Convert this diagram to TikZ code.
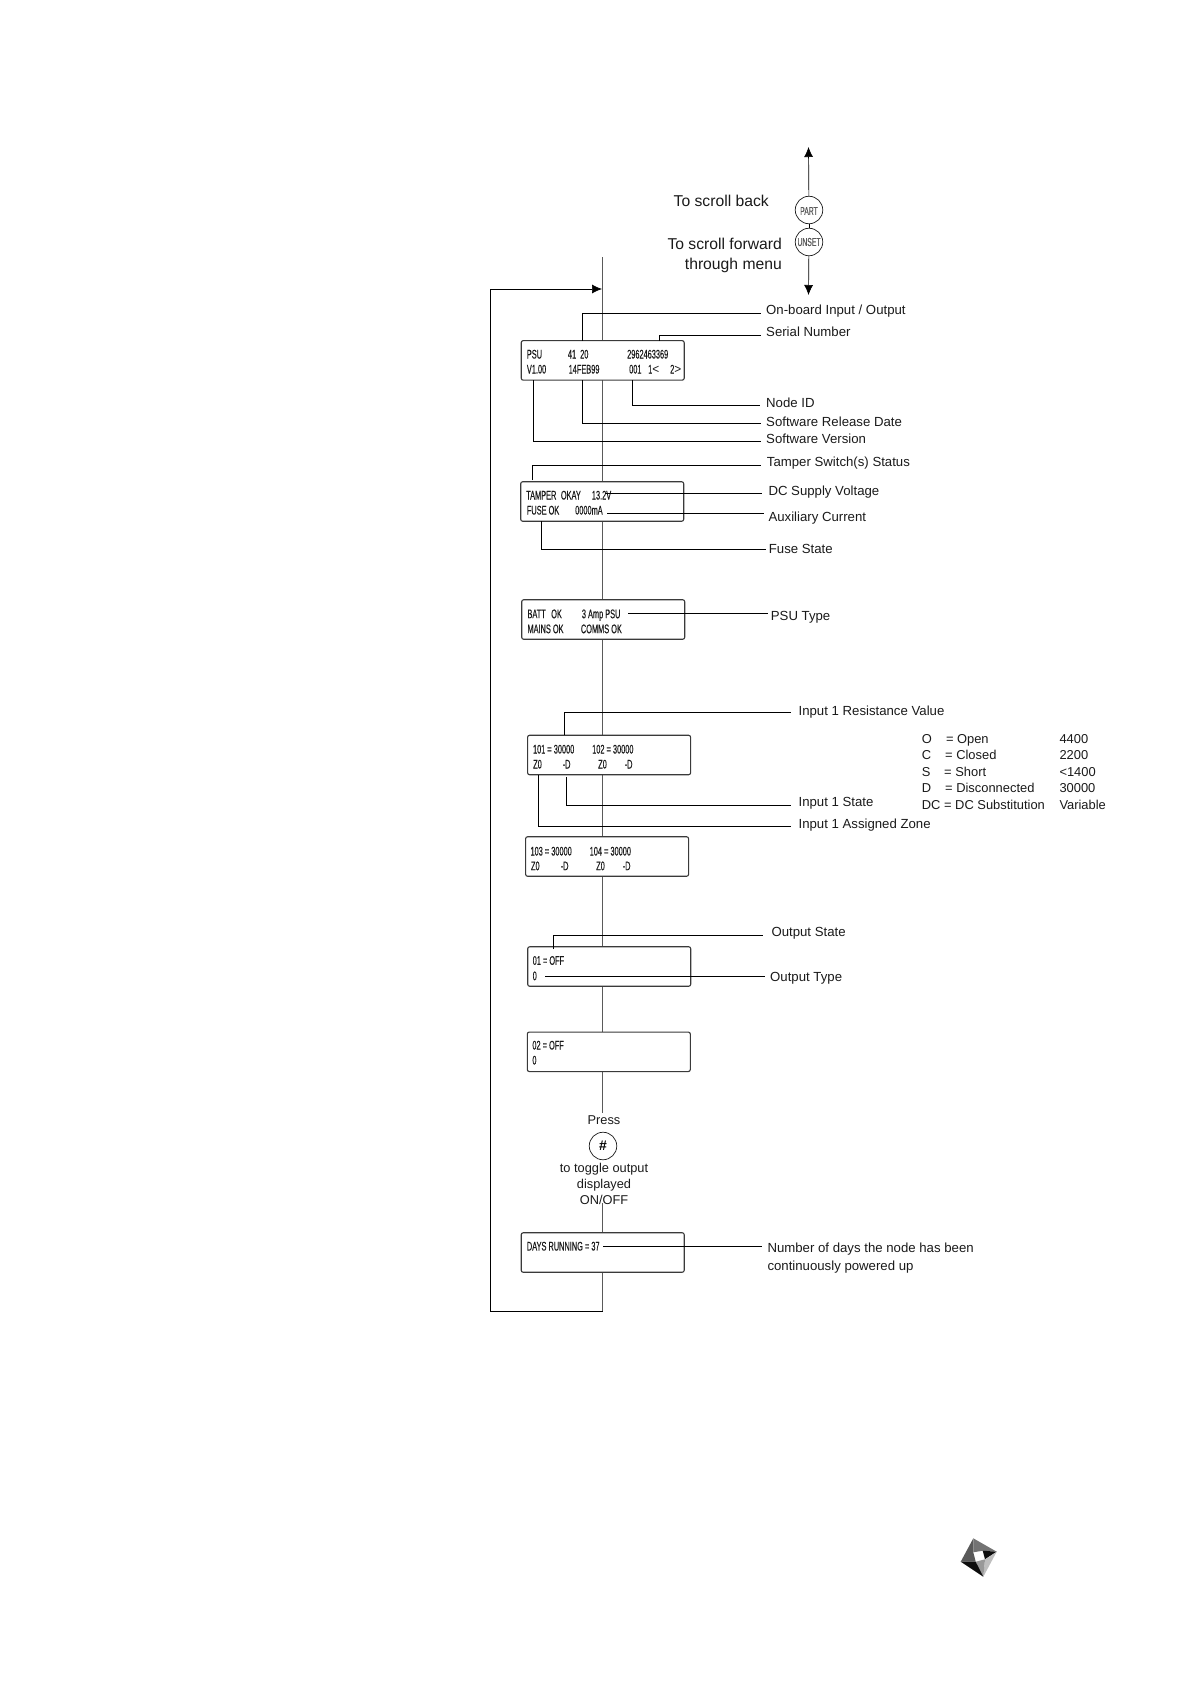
\documentclass[tikz,border=0pt]{standalone}
\usepackage{fontspec}
\setmainfont{Liberation Sans}
\newfontfamily\lcdfont[FakeStretch=0.59,FakeBold=0.25]{Liberation Sans}
\newfontfamily\lcdwide[FakeStretch=0.95]{Liberation Sans}
\usepackage{tikz}
\usetikzlibrary{calc,arrows.meta}
\definecolor{ink}{HTML}{1A1A1A}
\definecolor{rail}{HTML}{5A5A5A}
\definecolor{frame}{HTML}{3A3A3A}
\tikzset{
  lcdbox/.style={draw=frame,fill=white,line width=1.1pt,rounded corners=2pt,minimum width=163pt,minimum height=39.5pt,inner sep=0pt,outer sep=0pt},
  lcdtext/.style={anchor=base west,inner sep=0pt,yshift=-4.5pt,text=ink,font=\lcdfont\fontsize{12.5}{14}\selectfont},
  labeltext/.style={anchor=base west,inner sep=0pt,yshift=-5pt,text=ink,font=\fontsize{13.2}{16}\selectfont},
  tabletext/.style={labeltext,font=\fontsize{12.9}{16}\selectfont},
  scrolltext/.style={anchor=base east,inner sep=0pt,yshift=-5.5pt,text=ink,font=\fontsize{15.7}{18}\selectfont},
  presstext/.style={anchor=base,inner sep=0pt,yshift=-4.5pt,text=ink,font=\fontsize{12.8}{15}\selectfont},
  button/.style={draw=ink,fill=white,circle,line width=0.7pt,minimum size=27.5pt,inner sep=0pt,outer sep=0pt},
  keytext/.style={text=rail,font=\lcdfont\fontsize{11.5}{12}\selectfont},
  leader/.style={draw=black,line width=0.7pt},
  flowline/.style={draw=rail,line width=0.8pt},
  loopline/.style={draw=black,line width=0.7pt},
  tip/.style={-{Latex[length=10pt,width=9pt]}}
}
\begin{document}
\begin{tikzpicture}[x=1pt,y=-1pt]
\useasboundingbox (0,0) rectangle (1190,1684);
\foreach \nm/\x/\y in {mainTop/602.5/257,mainEntry/602/289,pressStop/602.5/1113,pressResume/602.5/1203,mainBottom/602.5/1311,loopLow/490.5/1311,loopHigh/490.5/289,
  upTip/808.5/147,downTip/808.5/295,
  onboardEnd/761/313.3,serialEnd/761/335.3,nodeidEnd/760/405.3,releaseEnd/761/423.3,versionEnd/761/441.3,
  tamperEnd/761/465.3,dcFrom/605/493.3,dcEnd/762/493.3,auxFrom/607.3/513.3,auxEnd/764/513.3,fuseEnd/766/549.3,
  psuFrom/628.3/613.3,psuEnd/767.7/613.3,resistEnd/790.5/712.3,stateEnd/790.5/805,zoneEnd/790.5/826.7,
  outstateEnd/762.7/935.3,outtypeFrom/545.3/976.3,outtypeEnd/765/976.3,daysFrom/603.3/1246,daysEnd/761.7/1246}
  \coordinate (\nm) at (\x,\y);
\draw[flowline] (mainTop) -- (pressStop);
\draw[flowline] (pressResume) -- (mainBottom);
\draw[loopline,tip] (mainBottom) -- (loopLow) -- (loopHigh) -- (mainEntry);
\node[lcdbox] (boxA) at (602.7,360.4) {};
\node[lcdbox] (boxB) at (602.2,501.5) {};
\node[lcdbox] (boxC) at (603.2,619.5) {};
\node[lcdbox] (boxD) at (609.1,755) {};
\node[lcdbox] (boxE) at (607.1,856.5) {};
\node[lcdbox] (boxF) at (609.2,966.5) {};
\node[lcdbox] (boxG) at (608.8,1051.8) {};
\node[lcdbox] (boxH) at (602.7,1252.5) {};
\foreach \nm/\x/\y/\txt in {a1/526.7/354/PSU,a2/567.7/354/41\ \ 20,a3/627/354/2962463369,a4/526.7/369/V1.00,a5/568.5/369/14FEB99,a6/629/369/001,a7/648/369/{1{\lcdwide<}},a8/670/369/{2{\lcdwide>}},
  b1/526/495/TAMPER,b2/560.7/495/OKAY,b3/591.7/495/13.2V,b4/526.7/510/FUSE OK,b5/575/510/0000mA,
  c1/527.3/613.7/BATT,c2/551/613.7/OK,c3/581.7/613.7/3 Amp PSU,c4/527.3/628.7/MAINS OK,c5/580.7/628.7/COMMS OK,
  d1/532.8/749/101\,=\,30000,d2/592/749/102\,=\,30000,d3/533/764/Z0,d4/562.5/764/-D,d5/598/764/Z0,d6/624.5/764/-D,
  e1/530.3/851/103\,=\,30000,e2/589.5/851/104\,=\,30000,e3/530.8/865.7/Z0,e4/560.5/865.7/-D,e5/596/865.7/Z0,e6/622.5/865.7/-D,
  f1/532.5/960.3/01\,=\,OFF,f2/532.5/975.7/0,g1/532.2/1045/02\,=\,OFF,g2/532.2/1060/0,h1/526.7/1246/DAYS RUNNING\,=\,37}
  \node[lcdtext] (lcd\nm) at (\x,\y) {\txt};
\node[button] (partBtn) at (809,210) {};
\node[keytext] (partKey) at (809,211) {PART};
\node[button] (unsetBtn) at (809,242) {};
\node[keytext] (unsetKey) at (unsetBtn) {UNSET};
\draw[loopline] (partBtn) -- (unsetBtn);
\draw[loopline,tip] (partBtn) -- (upTip);
\draw[loopline,tip] (unsetBtn) -- (downTip);
\node[scrolltext] (backText) at (769,201) {To scroll back};
\node[scrolltext] (forwardText) at (782,243.5) {To scroll forward};
\node[scrolltext] (throughText) at (782,263.5) {through menu};
\foreach \nm/\x/\y/\txt in {Onboard/766/309/{On-board Input / Output},Serial/766/331.7/Serial Number,Nodeid/766/402/Node ID,
  Release/766/421/Software Release Date,Version/766/438/Software Version,Tamper/766.7/461.7/Tamper Switch(s) Status,
  Dc/768.3/490.3/DC Supply Voltage,Aux/768.3/516.7/Auxiliary Current,Fuse/768.7/548.7/Fuse State,Psu/770.7/615.3/PSU Type,
  Resist/798.4/710.7/Input 1 Resistance Value,State/798.4/801.7/Input 1 State,Zone/798.4/823.3/Input 1 Assigned Zone,
  Outstate/771.3/931/Output State,Outtype/770/976/Output Type,
  DaysA/767.3/1247.7/Number of days the node has been,DaysB/767.3/1265/continuously powered up}
  \node[labeltext] (lbl\nm) at (\x,\y) {\txt};
\foreach \nm/\x/\y/\txt in {o1/921.7/738.3/O,o2/945.8/738.3/= Open,o3/1059.3/738.3/4400,
  c1/921.7/754.3/C,c2/945/754.3/= Closed,c3/1059.3/754.3/2200,
  s1/921.7/771/S,s2/944/771/= Short,s3/1059.3/771/<1400,
  d1/921.7/787.7/D,d2/945/787.7/= Disconnected,d3/1059.3/787.7/30000,
  v1/921.7/804.3/DC = DC Substitution,v3/1059.3/804.3/Variable}
  \node[tabletext] (key\nm) at (\x,\y) {\txt};
\draw[leader] ([xshift=-20.4pt]boxA.north) |- (onboardEnd);
\draw[leader] ([xshift=56.6pt]boxA.north) |- (serialEnd);
\draw[leader] ([xshift=29.6pt]boxA.south) |- (nodeidEnd);
\draw[leader] ([xshift=-20.4pt]boxA.south) |- (releaseEnd);
\draw[leader] ([xshift=-69.4pt]boxA.south) |- (versionEnd);
\draw[leader] ([shift={(-69.9pt,1.7pt)}]boxB.north) |- (tamperEnd);
\draw[leader] (dcFrom) -- (dcEnd);
\draw[leader] (auxFrom) -- (auxEnd);
\draw[leader] ([xshift=-60.9pt]boxB.south) |- (fuseEnd);
\draw[leader] (psuFrom) -- (psuEnd);
\draw[leader] ([xshift=-44.7pt]boxD.north) |- (resistEnd);
\draw[leader] ([shift={(-42.7pt,-2pt)}]boxD.south) |- (stateEnd);
\draw[leader] ([xshift=-70.8pt]boxD.south) |- (zoneEnd);
\draw[leader] ([shift={(-55.9pt,-2.3pt)}]boxF.north) |- (outstateEnd);
\draw[leader] (outtypeFrom) -- (outtypeEnd);
\draw[leader] (daysFrom) -- (daysEnd);
\node[presstext] (pressText) at (604,1120) {Press};
\node[button,font=\bfseries\fontsize{14}{16}\selectfont] (hashBtn) at (603,1146) {\#};
\node[presstext] (toggleText) at (604,1168) {to toggle output};
\node[presstext] (displayText) at (604,1184) {displayed};
\node[presstext] (onoffText) at (604,1200) {ON/OFF};
\fill[black!65] (973.3,1538.3) -- (973.3,1552.3) -- (975.7,1561.7) -- (960.7,1561.7) -- cycle;
\fill[black!55] (973.3,1538.3) -- (996.7,1551.7) -- (982.7,1550.7) -- (973.3,1552.3) -- cycle;
\fill[black!95] (996.7,1551.7) -- (982.7,1550.7) -- (985,1559.3) -- cycle;
\fill[black!25] (985,1559.3) -- (996.7,1551.7) -- (983.3,1576.7) -- cycle;
\fill[black!40] (985,1559.3) -- (975.7,1561.7) -- (983.3,1576.7) -- cycle;
\fill[black!95] (960.7,1561.7) -- (975.7,1561.7) -- (983.3,1576.7) -- cycle;
\end{tikzpicture}
\end{document}
